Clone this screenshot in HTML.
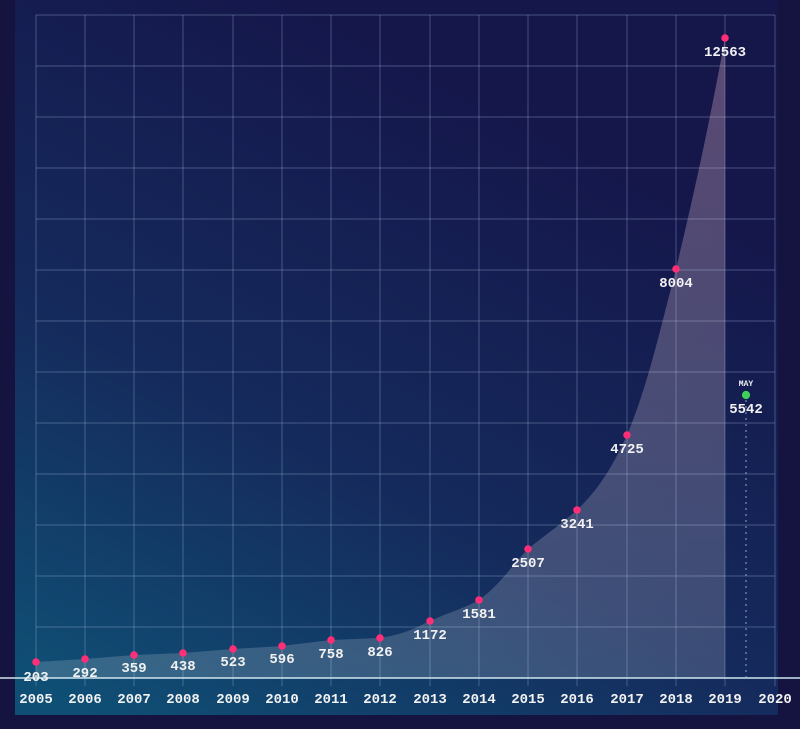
<!DOCTYPE html>
<html><head><style>
html,body{margin:0;padding:0;background:#15133f;}
svg{display:block}
text{font-family:"Liberation Mono","DejaVu Sans Mono",monospace;font-weight:bold;fill:#f2f2f2;text-anchor:middle}
</style></head><body>
<svg width="800" height="729" viewBox="0 0 800 729">
<defs>
<linearGradient id="bg" x1="0.6" y1="0.1" x2="0.1" y2="1">
<stop offset="0" stop-color="#15164a"/>
<stop offset="0.55" stop-color="#152a5c"/>
<stop offset="1" stop-color="#0f4f75"/>
</linearGradient>
<linearGradient id="fill" x1="0" y1="1" x2="0" y2="0">
<stop offset="0" stop-color="#ffffff" stop-opacity="0.16"/>
<stop offset="1" stop-color="#ffc8d8" stop-opacity="0.3"/>
</linearGradient>
</defs>
<rect width="800" height="729" fill="#15133f"/>
<rect x="15" y="0" width="763" height="715" fill="url(#bg)"/>
<g stroke="#9fb6d6" stroke-opacity="0.3" stroke-width="1.2">
<line x1="36" y1="15" x2="775" y2="15"/><line x1="36" y1="66" x2="775" y2="66"/>
<line x1="36" y1="117" x2="775" y2="117"/><line x1="36" y1="168" x2="775" y2="168"/>
<line x1="36" y1="219" x2="775" y2="219"/><line x1="36" y1="270" x2="775" y2="270"/>
<line x1="36" y1="321" x2="775" y2="321"/><line x1="36" y1="372" x2="775" y2="372"/>
<line x1="36" y1="423" x2="775" y2="423"/><line x1="36" y1="474" x2="775" y2="474"/>
<line x1="36" y1="525" x2="775" y2="525"/><line x1="36" y1="576" x2="775" y2="576"/>
<line x1="36" y1="627" x2="775" y2="627"/>
<line x1="36" y1="15" x2="36" y2="686"/><line x1="85" y1="15" x2="85" y2="686"/>
<line x1="134" y1="15" x2="134" y2="686"/><line x1="183" y1="15" x2="183" y2="686"/>
<line x1="233" y1="15" x2="233" y2="686"/><line x1="282" y1="15" x2="282" y2="686"/>
<line x1="331" y1="15" x2="331" y2="686"/><line x1="380" y1="15" x2="380" y2="686"/>
<line x1="430" y1="15" x2="430" y2="686"/><line x1="479" y1="15" x2="479" y2="686"/>
<line x1="528" y1="15" x2="528" y2="686"/><line x1="577" y1="15" x2="577" y2="686"/>
<line x1="627" y1="15" x2="627" y2="686"/><line x1="676" y1="15" x2="676" y2="686"/>
<line x1="725" y1="15" x2="725" y2="686"/><line x1="775" y1="15" x2="775" y2="686"/>
</g>
<path d="M36,662 L85,659 L134,655 L183,653 L233,649 L282,646 L331,640 L380,638 C405,634 415,628 430,621 C450,612 465,608 479,600 C500,585 512,565 528,549 C545,535 560,525 577,510 C598,490 612,468 627,435 C648,385 660,330 676,269 C695,190 710,120 725,38 L725,678 L36,678 Z" fill="url(#fill)"/>
<line x1="0" y1="678" x2="800" y2="678" stroke="#cfe6f0" stroke-width="1.5"/>
<line x1="746" y1="400" x2="746" y2="678" stroke="#9fb6d6" stroke-width="1.5" stroke-dasharray="2,4" stroke-opacity="0.6"/>
<g fill="#ff2e77" stroke="#ff2e77" stroke-width="1.5">
<circle cx="36" cy="662" r="3"/><circle cx="85" cy="659" r="3"/><circle cx="134" cy="655" r="3"/>
<circle cx="183" cy="653" r="3"/><circle cx="233" cy="649" r="3"/><circle cx="282" cy="646" r="3"/>
<circle cx="331" cy="640" r="3"/><circle cx="380" cy="638" r="3"/><circle cx="430" cy="621" r="3"/>
<circle cx="479" cy="600" r="3"/><circle cx="528" cy="549" r="3"/><circle cx="577" cy="510" r="3"/>
<circle cx="627" cy="435" r="3"/><circle cx="676" cy="269" r="3"/><circle cx="725" cy="38" r="3"/>
</g>
<circle cx="746" cy="395" r="3.5" fill="#3fd05a" stroke="#3fd05a" stroke-width="1.2"/>
<g font-size="14">
<text x="36" y="681">203</text><text x="85" y="677">292</text><text x="134" y="672">359</text>
<text x="183" y="670">438</text><text x="233" y="666">523</text><text x="282" y="663">596</text>
<text x="331" y="658">758</text><text x="380" y="656">826</text><text x="430" y="639">1172</text>
<text x="479" y="618">1581</text><text x="528" y="567">2507</text><text x="577" y="528">3241</text>
<text x="627" y="453">4725</text><text x="676" y="287">8004</text><text x="725" y="56">12563</text>
<text x="746" y="413">5542</text>
</g>
<text x="746" y="386" font-size="8">MAY</text>
<g font-size="14">
<text x="36" y="703">2005</text><text x="85" y="703">2006</text><text x="134" y="703">2007</text>
<text x="183" y="703">2008</text><text x="233" y="703">2009</text><text x="282" y="703">2010</text>
<text x="331" y="703">2011</text><text x="380" y="703">2012</text><text x="430" y="703">2013</text>
<text x="479" y="703">2014</text><text x="528" y="703">2015</text><text x="577" y="703">2016</text>
<text x="627" y="703">2017</text><text x="676" y="703">2018</text><text x="725" y="703">2019</text>
<text x="775" y="703">2020</text>
</g>
</svg>
</body></html>
